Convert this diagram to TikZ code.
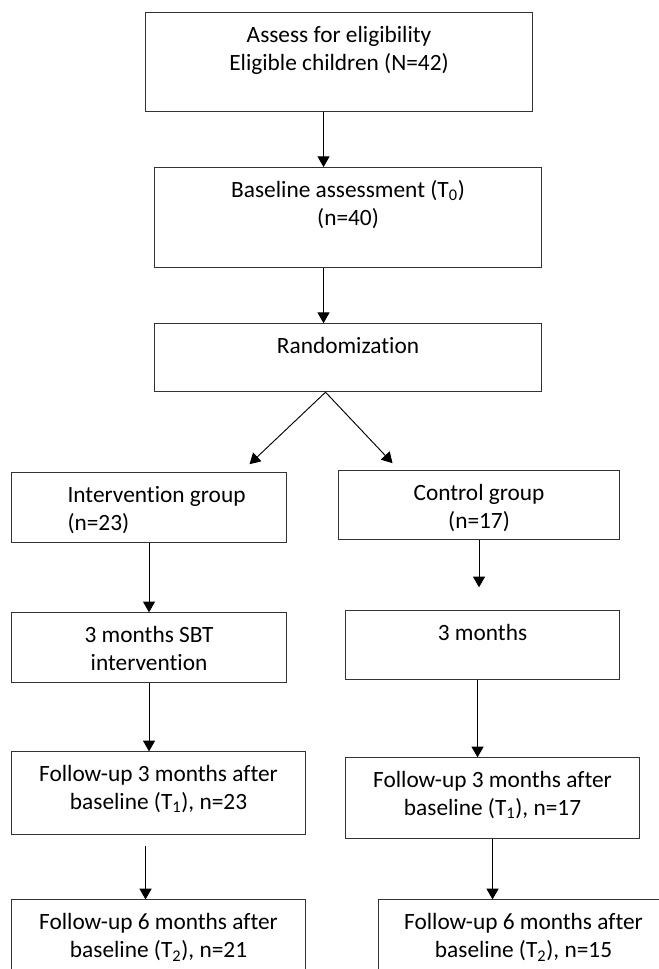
\documentclass[tikz,border=0pt]{standalone}
\usepackage{fontspec}
\setmainfont{Carlito}[Ligatures=NoCommon]
\usetikzlibrary{positioning,calc,arrows.meta}

\begin{document}
\begin{tikzpicture}
       \newcommand{\boxtext}[3]{\parbox[t][#2][t]{#1}{\vspace*{7.5pt}#3}}
       \tikzstyle{block}     = [rectangle, draw = black!80, line width=0.8pt, inner sep=0pt, font=\fontsize{17.5}{21}\selectfont]
       \tikzstyle{connector} = [line width=0.7pt, -{Triangle[width=9pt,length=8pt]}]

       \clip (0,0) rectangle (494.25pt,-726.75pt);

       \node [block, anchor=north west] (assess) at (108.75pt,-9pt) {
         \boxtext{290.25pt}{74.25pt}{\centering\strut Assess for eligibility\\Eligible children (N=42)}
       };
       \node [block, below right = 41.25pt and 6.75pt of assess.south west] (baseline) {
         \boxtext{290.25pt}{75pt}{\centering\strut Baseline assessment (T\textsubscript{0})\\(n=40)}
       };
       \node [block, below = 41.25pt of baseline] (random) {
         \boxtext{290.25pt}{51pt}{\centering\strut Randomization}
       };
       \node [block, below right = 60pt and -107.25pt of random.south west] (interv) {
         \boxtext{206.25pt}{52.5pt}{\raggedright\leftskip=42pt\strut Intervention group\\(n=23)}
       };
       \node [block, below right = 58.5pt and 138pt of random.south west] (control) {
         \boxtext{210.75pt}{51.75pt}{\centering\strut Control group\\(n=17)}
       };
       \node [block, below = 51.75pt of interv] (sbt) {
         \boxtext{206.25pt}{52.5pt}{\centering\strut 3 months SBT\\intervention}
       };
       \node [block, below right = 52.5pt and 5.25pt of control.south west] (three) {
         \boxtext{205.5pt}{51.75pt}{\centering\strut 3 months}
       };
       \node [block, below right = 51pt and 0pt of sbt.south west] (followA) {
         \boxtext{220.5pt}{62.25pt}{\centering\strut Follow-up 3 months after\\baseline (T\textsubscript{1}), n=23}
       };
       \node [block, below right = 57.75pt and 0pt of three.south west] (followB) {
         \boxtext{220.5pt}{60.75pt}{\centering\strut Follow-up 3 months after\\baseline (T\textsubscript{1}), n=17}
       };
       \node [block, below = 48pt of followA] (followC) {
         \boxtext{220.5pt}{69pt}{\centering\strut Follow-up 6 months after\\baseline (T\textsubscript{2}), n=21}
       };
       \node [block, below right = 45pt and 24.75pt of followB.south west] (followD) {
         \boxtext{217.5pt}{69pt}{\centering\strut Follow-up 6 months after\\baseline (T\textsubscript{2}), n=15}
       };

       \draw [connector] ($(assess.south)+(-11.625pt,0)$) -- ($(assess.south |- baseline.north)+(-11.625pt,0)$);
       \draw [connector] ($(baseline.south)+(-18.375pt,0)$) -- ($(random.north)+(-18.375pt,0)$);
       \draw [connector] ($(random.south)+(-16.875pt,0)$) -- ($(interv.north)+(75.375pt,6pt)$);
       \draw [connector] ($(random.south)+(-16.875pt,0)$) -- ($(control.north)+(-64.875pt,5.25pt)$);
       \draw [connector] (interv.south) -- (sbt.north);
       \draw [connector] (control.south) -- ($(control.south |- three.north)+(0,17.25pt)$);
       \draw [connector] (sbt.south) -- (sbt.south |- followA.north);
       \draw [connector] ($(followA.south)+(-9.75pt,-8.25pt)$) -- ($(followC.north)+(-9.75pt,0)$);
       \draw [connector] ($(three.south)+(-3.75pt,0)$) -- ($(three.south |- followB.north)+(-3.75pt,0)$);
       \draw [connector] (followB.south) -- (followB.south |- followD.north);
     \end{tikzpicture}
\end{document}
